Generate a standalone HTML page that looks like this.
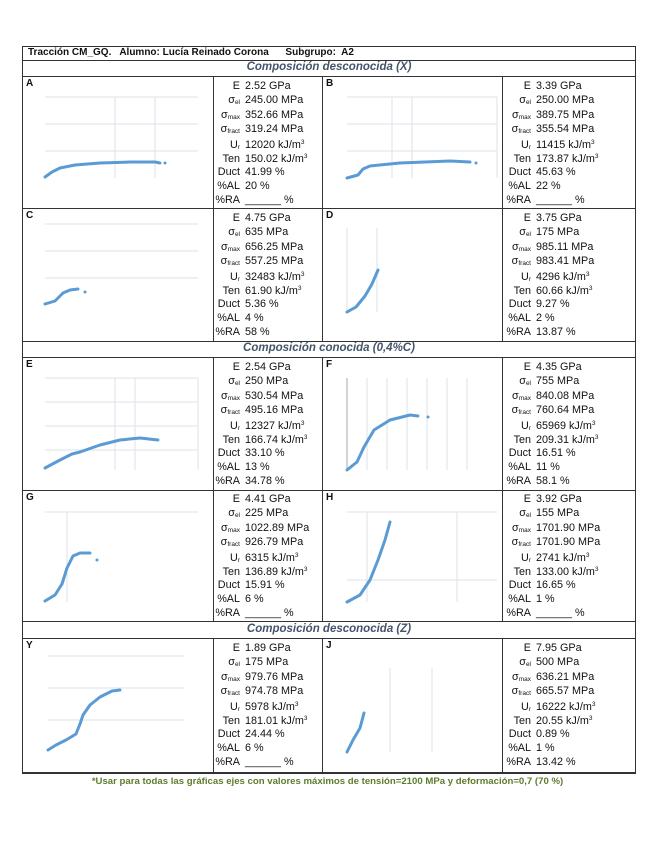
<!DOCTYPE html>
<html><head><meta charset="utf-8"><style>
body{margin:0;background:#fff;width:655px;height:848px;position:relative;font-family:"Liberation Sans",sans-serif;color:#111;overflow:hidden}
.a{position:absolute}
.h{position:absolute;background:#333;height:1px}
.v{position:absolute;background:#333;width:1px}
.sec{position:absolute;left:22px;width:614px;text-align:center;font-style:italic;font-weight:bold;color:#44546a;font-size:11.5px}
.lab{position:absolute;font-weight:bold;font-size:10px}
.st{position:absolute;font-size:10.8px;line-height:14.3px}
.st div{height:14.3px;white-space:nowrap}
.st span.k{display:inline-block;width:28px;text-align:right;margin-right:5px}
sub{font-size:6.5px;vertical-align:-1px}
sup{font-size:6.5px;vertical-align:4px}
svg{position:absolute}
</style></head><body>
<div class="h" style="left:22px;top:46px;width:614px"></div>
<div class="h" style="left:22px;top:60px;width:614px"></div>
<div class="h" style="left:22px;top:76px;width:614px"></div>
<div class="h" style="left:22px;top:208px;width:614px"></div>
<div class="h" style="left:22px;top:341px;width:614px"></div>
<div class="h" style="left:22px;top:357px;width:614px"></div>
<div class="h" style="left:22px;top:490px;width:614px"></div>
<div class="h" style="left:22px;top:621px;width:614px"></div>
<div class="h" style="left:22px;top:638px;width:614px"></div>
<div class="h" style="left:22px;top:772px;width:614px;height:2px"></div>
<div class="v" style="left:22px;top:46px;height:728px"></div>
<div class="v" style="left:635px;top:46px;height:728px"></div>
<div class="v" style="left:213px;top:76px;height:265px"></div><div class="v" style="left:322px;top:76px;height:265px"></div><div class="v" style="left:502px;top:76px;height:265px"></div>
<div class="v" style="left:213px;top:357px;height:264px"></div><div class="v" style="left:322px;top:357px;height:264px"></div><div class="v" style="left:502px;top:357px;height:264px"></div>
<div class="v" style="left:213px;top:638px;height:135px"></div><div class="v" style="left:322px;top:638px;height:135px"></div><div class="v" style="left:502px;top:638px;height:135px"></div>

<div class="a" style="left:28px;top:47px;font-size:10px;font-weight:bold">Tracción CM_GQ.&nbsp;&nbsp; Alumno: Lucía Reinado Corona&nbsp;&nbsp;&nbsp;&nbsp;&nbsp; Subgrupo:&nbsp; A2</div>
<div class="sec" style="top:61px">Composición desconocida (X)</div>
<div class="sec" style="top:342px">Composición conocida (0,4%C)</div>
<div class="sec" style="top:623px">Composición desconocida (Z)</div>

<div class="lab" style="left:26px;top:78px">A</div><div class="lab" style="left:326px;top:78px">B</div>
<div class="lab" style="left:26px;top:210px">C</div><div class="lab" style="left:326px;top:210px">D</div>
<div class="lab" style="left:26px;top:359px">E</div><div class="lab" style="left:326px;top:359px">F</div>
<div class="lab" style="left:26px;top:492px">G</div><div class="lab" style="left:326px;top:492px">H</div>
<div class="lab" style="left:26px;top:640px">Y</div><div class="lab" style="left:326px;top:640px">J</div>

<div class="st" style="left:212px;top:79px"><div><span class="k">E</span>2.52 GPa</div><div><span class="k">σ<sub>el</sub></span>245.00 MPa</div><div><span class="k">σ<sub>max</sub></span>352.66 MPa</div><div><span class="k">σ<sub>fract</sub></span>319.24 MPa</div><div><span class="k">U<sub>r</sub></span>12020 kJ/m<sup>3</sup></div><div><span class="k">Ten</span>150.02 kJ/m<sup>3</sup></div><div><span class="k">Duct</span>41.99 %</div><div><span class="k">%AL</span>20 %</div><div><span class="k">%RA</span>______ %</div></div>
<div class="st" style="left:503px;top:79px"><div><span class="k">E</span>3.39 GPa</div><div><span class="k">σ<sub>el</sub></span>250.00 MPa</div><div><span class="k">σ<sub>max</sub></span>389.75 MPa</div><div><span class="k">σ<sub>fract</sub></span>355.54 MPa</div><div><span class="k">U<sub>r</sub></span>11415 kJ/m<sup>3</sup></div><div><span class="k">Ten</span>173.87 kJ/m<sup>3</sup></div><div><span class="k">Duct</span>45.63 %</div><div><span class="k">%AL</span>22 %</div><div><span class="k">%RA</span>______ %</div></div>
<div class="st" style="left:212px;top:211px"><div><span class="k">E</span>4.75 GPa</div><div><span class="k">σ<sub>el</sub></span>635 MPa</div><div><span class="k">σ<sub>max</sub></span>656.25 MPa</div><div><span class="k">σ<sub>fract</sub></span>557.25 MPa</div><div><span class="k">U<sub>r</sub></span>32483 kJ/m<sup>3</sup></div><div><span class="k">Ten</span>61.90 kJ/m<sup>3</sup></div><div><span class="k">Duct</span>5.36 %</div><div><span class="k">%AL</span>4 %</div><div><span class="k">%RA</span>58 %</div></div>
<div class="st" style="left:503px;top:211px"><div><span class="k">E</span>3.75 GPa</div><div><span class="k">σ<sub>el</sub></span>175 MPa</div><div><span class="k">σ<sub>max</sub></span>985.11 MPa</div><div><span class="k">σ<sub>fract</sub></span>983.41 MPa</div><div><span class="k">U<sub>r</sub></span>4296 kJ/m<sup>3</sup></div><div><span class="k">Ten</span>60.66 kJ/m<sup>3</sup></div><div><span class="k">Duct</span>9.27 %</div><div><span class="k">%AL</span>2 %</div><div><span class="k">%RA</span>13.87 %</div></div>
<div class="st" style="left:212px;top:360px"><div><span class="k">E</span>2.54 GPa</div><div><span class="k">σ<sub>el</sub></span>250 MPa</div><div><span class="k">σ<sub>max</sub></span>530.54 MPa</div><div><span class="k">σ<sub>fract</sub></span>495.16 MPa</div><div><span class="k">U<sub>r</sub></span>12327 kJ/m<sup>3</sup></div><div><span class="k">Ten</span>166.74 kJ/m<sup>3</sup></div><div><span class="k">Duct</span>33.10 %</div><div><span class="k">%AL</span>13 %</div><div><span class="k">%RA</span>34.78 %</div></div>
<div class="st" style="left:503px;top:360px"><div><span class="k">E</span>4.35 GPa</div><div><span class="k">σ<sub>el</sub></span>755 MPa</div><div><span class="k">σ<sub>max</sub></span>840.08 MPa</div><div><span class="k">σ<sub>fract</sub></span>760.64 MPa</div><div><span class="k">U<sub>r</sub></span>65969 kJ/m<sup>3</sup></div><div><span class="k">Ten</span>209.31 kJ/m<sup>3</sup></div><div><span class="k">Duct</span>16.51 %</div><div><span class="k">%AL</span>11 %</div><div><span class="k">%RA</span>58.1 %</div></div>
<div class="st" style="left:212px;top:492px"><div><span class="k">E</span>4.41 GPa</div><div><span class="k">σ<sub>el</sub></span>225 MPa</div><div><span class="k">σ<sub>max</sub></span>1022.89 MPa</div><div><span class="k">σ<sub>fract</sub></span>926.79 MPa</div><div><span class="k">U<sub>r</sub></span>6315 kJ/m<sup>3</sup></div><div><span class="k">Ten</span>136.89 kJ/m<sup>3</sup></div><div><span class="k">Duct</span>15.91 %</div><div><span class="k">%AL</span>6 %</div><div><span class="k">%RA</span>______ %</div></div>
<div class="st" style="left:503px;top:492px"><div><span class="k">E</span>3.92 GPa</div><div><span class="k">σ<sub>el</sub></span>155 MPa</div><div><span class="k">σ<sub>max</sub></span>1701.90 MPa</div><div><span class="k">σ<sub>fract</sub></span>1701.90 MPa</div><div><span class="k">U<sub>r</sub></span>2741 kJ/m<sup>3</sup></div><div><span class="k">Ten</span>133.00 kJ/m<sup>3</sup></div><div><span class="k">Duct</span>16.65 %</div><div><span class="k">%AL</span>1 %</div><div><span class="k">%RA</span>______ %</div></div>
<div class="st" style="left:212px;top:641px"><div><span class="k">E</span>1.89 GPa</div><div><span class="k">σ<sub>el</sub></span>175 MPa</div><div><span class="k">σ<sub>max</sub></span>979.76 MPa</div><div><span class="k">σ<sub>fract</sub></span>974.78 MPa</div><div><span class="k">U<sub>r</sub></span>5978 kJ/m<sup>3</sup></div><div><span class="k">Ten</span>181.01 kJ/m<sup>3</sup></div><div><span class="k">Duct</span>24.44 %</div><div><span class="k">%AL</span>6 %</div><div><span class="k">%RA</span>______ %</div></div>
<div class="st" style="left:503px;top:641px"><div><span class="k">E</span>7.95 GPa</div><div><span class="k">σ<sub>el</sub></span>500 MPa</div><div><span class="k">σ<sub>max</sub></span>636.21 MPa</div><div><span class="k">σ<sub>fract</sub></span>665.57 MPa</div><div><span class="k">U<sub>r</sub></span>16222 kJ/m<sup>3</sup></div><div><span class="k">Ten</span>20.55 kJ/m<sup>3</sup></div><div><span class="k">Duct</span>0.89 %</div><div><span class="k">%AL</span>1 %</div><div><span class="k">%RA</span>13.42 %</div></div>

<svg width="655" height="848" style="left:0;top:0" font-family="Liberation Sans" font-size="4" fill="#888">
<g stroke="#dde3ea" stroke-width="1" fill="none">
<path d="M45 97H198M45 124H198M45 151H198M115 97V178M155 97V178"/>
<path d="M347 97H497M347 124H497M347 151H497M392 97V178M412 97V178M497 97V178"/>
<path d="M45 224H198M45 251H198M45 278H198"/>
<path d="M347 228V312M377 228V312"/>
<path d="M45 378H198M45 402H198M45 426H198M45 450H198M115 378V470M135 378V470M198 378V470"/>
<path d="M367 378V470M387 378V470M407 378V470M427 378V470M447 378V470M467 378V470"/>
<path d="M67 512V602M45 512H198"/>
<path d="M347 512H497M347 580H497M367 512V602M457 512V602"/>
<path d="M48 656H184M48 688H184M48 720H184"/>
<path d="M390 668V752M432 668V752"/>
</g>
<g stroke="#aaa" stroke-width="1"><path d="M347 378V470"/></g>
<g stroke="#5b9bd5" stroke-width="3" fill="none" stroke-linecap="round" stroke-linejoin="round">
<polyline points="45,177 52,172 60,168 75,165 100,163 130,162 155,162 160,163"/>
<polyline points="347,178 358,175 363,169 370,166 400,163 450,161 470,162"/>
<polyline points="45,304 55,301 63,293 70,290 78,289"/>
<polyline points="347,312 356,307 365,296 372,284 378,270"/>
<polyline points="45,468 60,460 72,454 80,452 100,445 120,440 140,438 158,440"/>
<polyline points="347,470 357,462 364,447 374,430 390,420 410,415 418,416"/>
<polyline points="45,601 55,595 62,584 67,568 73,556 80,553 90,553"/>
<polyline points="347,602 360,595 370,580 378,560 385,540 390,522"/>
<polyline points="48,750 56,745 66,740 76,734 80,724 83,715 90,705 100,697 112,691 120,690"/>
<polyline points="347,752 353,740 360,728 364,713"/>
</g>
<g fill="#5b9bd5"><circle cx="85" cy="292" r="1.5"/><circle cx="165" cy="163" r="1.5"/><circle cx="476" cy="163" r="1.5"/><circle cx="428" cy="417" r="1.5"/><circle cx="97" cy="560" r="1.5"/></g>
</svg>

<div class="a" style="left:0;width:655px;top:776px;text-align:center;font-size:9.6px;font-weight:bold;color:#5d7d2b">*Usar para todas las gráficas ejes con valores máximos de tensión=2100 MPa y deformación=0,7 (70 %)</div>
</body></html>
